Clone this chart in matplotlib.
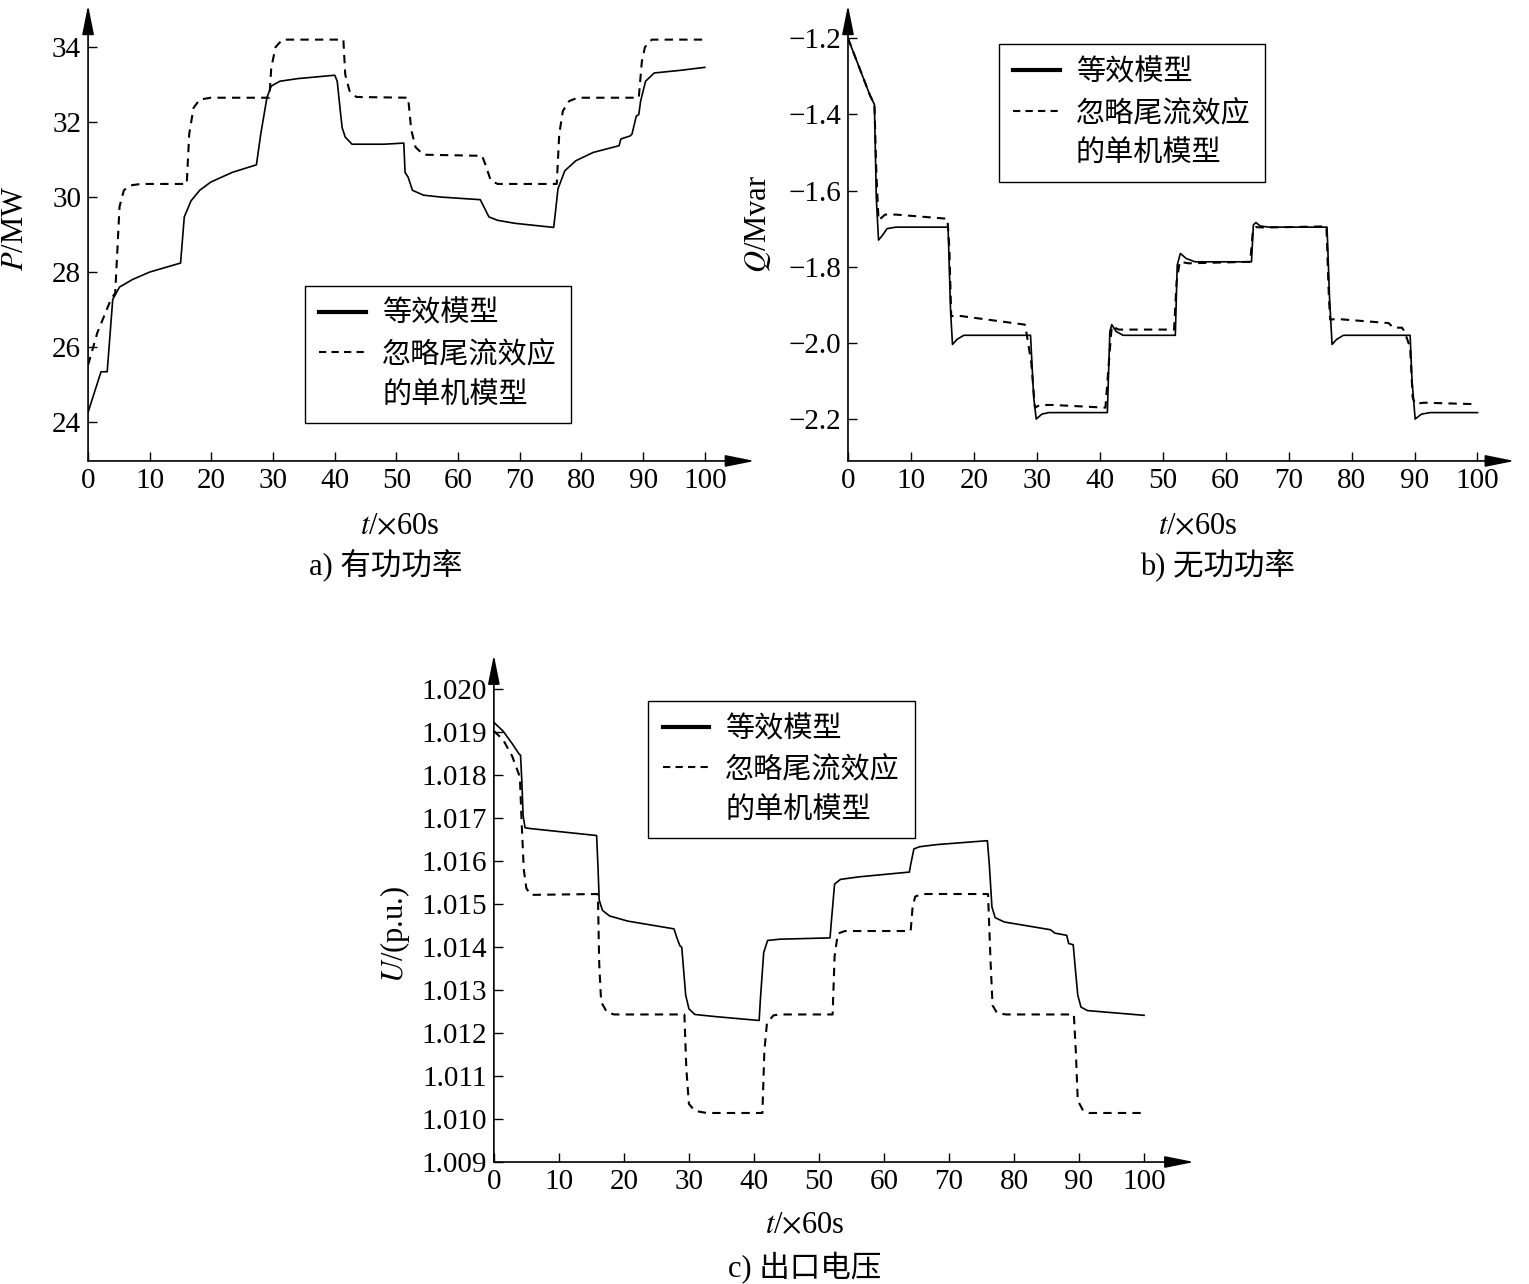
import matplotlib
matplotlib.use('Agg')
import matplotlib.pyplot as plt
from matplotlib.lines import Line2D
from matplotlib.ticker import FuncFormatter

plt.rcParams['font.family'] = ['Liberation Serif', 'Noto Sans CJK SC']
plt.rcParams['mathtext.fontset'] = 'stix'

# ---- a) active power P (MW) ----
t_p_eq = [0, 2.1, 3.1, 4.0, 5.1, 7.2, 10, 15, 15.6, 16.7, 18.1, 19.9, 23.4, 27.3,
          28.0, 29.0, 29.7, 31.1, 34.0, 40.0, 40.4, 40.9, 41.2, 41.7, 42.8, 48.0, 51.2,
          51.4, 51.9, 52.6, 54.4, 57.2, 63.6, 64.3, 65.0, 66.4, 69.2, 75.5, 75.7, 76.2,
          77.3, 79.1, 81.9, 86.1, 86.4, 87.9, 88.2, 88.9, 89.3, 89.6, 90.4, 91.8, 96, 100]
p_eq = [24.26, 25.34, 25.34, 27.27, 27.6, 27.8, 28.0, 28.24, 29.47, 29.9, 30.18, 30.4, 30.66, 30.86,
        31.68, 32.65, 32.96, 33.09, 33.16, 33.25, 33.09, 32.3, 31.85, 31.6, 31.41, 31.41, 31.44,
        30.66, 30.53, 30.18, 30.05, 30.0, 29.93, 29.7, 29.47, 29.38, 29.3, 29.19, 29.47, 30.22,
        30.7, 30.97, 31.19, 31.37, 31.55, 31.63, 31.68, 32.16, 32.2, 32.56, 33.09, 33.31, 33.38, 33.46]

t_p_single = [0, 1.5, 3.7, 4.4, 5.1, 5.8, 6.8, 8.6, 16.0, 16.4, 17.1, 18.1, 19.9, 29.4,
              29.7, 30.4, 31.5, 41.4, 41.7, 42.4, 43.5, 51.9, 52.4, 53.1, 54.4, 63.9,
              64.4, 65.3, 66.4, 76.0, 76.4, 77.0, 78.0, 79.4, 89.3, 89.8, 90.3, 91.4, 100]
p_single = [25.52, 26.38, 27.27, 27.44, 29.74, 30.18, 30.31, 30.35, 30.35, 31.68, 32.38, 32.6, 32.65, 32.65,
            33.44, 34.0, 34.2, 34.2, 33.27, 32.83, 32.67, 32.65, 31.8, 31.33, 31.13, 31.1,
            30.88, 30.44, 30.35, 30.35, 31.68, 32.3, 32.56, 32.65, 32.65, 33.62, 34.0, 34.2, 34.2]

# ---- b) reactive power Q (Mvar) ----
t_q_eq = [0, 0.7, 2.1, 3.5, 4.2, 4.5, 4.85, 5.5, 6.2, 7.6, 15.9, 16.3, 16.6, 17.3, 18.4, 29.0,
          29.5, 29.9, 30.8, 31.9, 41.2, 41.6, 41.9, 42.6, 43.7, 52.0, 52.3, 52.8, 53.7, 55.1,
          64.1, 64.4, 64.8, 65.5, 66.9, 76.1, 76.5, 76.9, 77.6, 78.7, 89.3, 89.6, 90.1, 91.1, 92.5, 100]
q_eq = [-1.2, -1.23, -1.29, -1.35, -1.374, -1.62, -1.73, -1.717, -1.70, -1.696, -1.696, -1.917, -2.004, -1.991, -1.98, -1.98,
        -2.143, -2.2, -2.187, -2.183, -2.183, -1.97, -1.952, -1.97, -1.98, -1.98, -1.796, -1.765, -1.778, -1.787,
        -1.787, -1.69, -1.684, -1.693, -1.696, -1.696, -1.883, -2.004, -1.991, -1.98, -1.98, -2.1, -2.2, -2.187, -2.183, -2.183]

t_q_single = [0, 0.7, 2.1, 3.5, 4.2, 4.5, 4.85, 5.9, 7.6, 15.8, 16.1, 16.4, 17.3, 28.1, 28.4, 29.1,
              29.7, 30.5, 32.6, 40.9, 41.4, 41.9, 43.0, 51.8, 52.2, 52.7, 54.1, 63.9, 64.3, 64.8,
              66.2, 76.0, 76.4, 76.6, 77.6, 85.9, 86.6, 88.0, 88.4, 89.3, 89.7, 90.1, 91.5, 100]
q_single = [-1.2, -1.23, -1.29, -1.35, -1.374, -1.55, -1.678, -1.663, -1.663, -1.674, -1.75, -1.93, -1.928, -1.952, -1.978, -2.05,
            -2.17, -2.163, -2.163, -2.17, -2.06, -1.956, -1.965, -1.965, -1.84, -1.787, -1.791, -1.787, -1.709, -1.696,
            -1.697, -1.694, -1.883, -1.939, -1.937, -1.948, -1.96, -1.96, -1.97, -2.012, -2.143, -2.16, -2.157, -2.161]

# ---- c) terminal voltage U (p.u.) ----
t_u_eq = [0, 1.4, 2.8, 3.9, 4.1, 4.3, 4.5, 4.8, 5.7, 15.8, 16.0, 16.2, 16.7, 17.8, 20.6, 27.7, 28.2,
          28.6, 28.9, 29.1, 29.5, 30.0, 30.9, 34.1, 40.8, 41.0, 41.5, 42.1, 44.0, 51.7, 52.0, 52.4,
          53.3, 56.2, 63.9, 64.1, 64.6, 65.5, 68.2, 75.9, 76.2, 76.6, 77.1, 78.5, 85.6, 86.3, 88.1,
          88.4, 89.1, 89.5, 89.8, 90.3, 91.3, 100]
u_eq = [1.01922, 1.01902, 1.01873, 1.01848, 1.01846, 1.01786, 1.01705, 1.01677, 1.01675, 1.01659, 1.01591, 1.01509, 1.01485, 1.01472, 1.0146, 1.01442, 1.01419,
        1.01403, 1.01399, 1.01362, 1.01288, 1.01256, 1.01243, 1.01238, 1.01229, 1.01281, 1.01387, 1.01415, 1.01418, 1.01421, 1.01476, 1.01546,
        1.01557, 1.01563, 1.01574, 1.01591, 1.01628, 1.01633, 1.01638, 1.01647, 1.01591, 1.01493, 1.01468, 1.01458, 1.0144, 1.01432, 1.01427,
        1.01408, 1.01405, 1.01337, 1.01288, 1.0126, 1.01252, 1.01241]

t_u_single = [0, 1.4, 2.8, 4.0, 4.3, 4.6, 5.0, 5.7, 16.0, 16.2, 16.5, 17.4, 18.5, 29.3, 29.6, 30.0,
              30.9, 32.7, 41.3, 41.6, 42.0, 43.0, 44.0, 52.1, 52.4, 52.9, 54.0, 64.1, 64.4, 64.8,
              65.8, 76.0, 76.4, 76.7, 77.4, 78.8, 89.2, 89.5, 89.8, 90.6, 91.6, 100]
u_single = [1.01902, 1.01882, 1.01844, 1.01795, 1.0168, 1.0158, 1.01536, 1.01521, 1.01523, 1.01362, 1.01272, 1.01248, 1.01243, 1.01243, 1.01117, 1.01035,
            1.01019, 1.01014, 1.01014, 1.01158, 1.01223, 1.01241, 1.01243, 1.01243, 1.01378, 1.01431, 1.01437, 1.01437, 1.01493, 1.01517,
            1.01523, 1.01523, 1.01362, 1.01264, 1.01246, 1.01243, 1.01243, 1.01158, 1.01043, 1.0102, 1.01014, 1.01014]

legend_labels = ['等效模型', '忽略尾流效应', '的单机模型']


def style_axis(ax, xmax, ylo, yhi, yticks, ndec, ylabel, ylabel_xy, xlabel_xy, legend_xy):
    for s in ax.spines.values():
        s.set_visible(False)
    ax.set_xlim(0, xmax)
    ax.set_ylim(ylo, yhi)
    ax.set_xticks(range(0, 101, 10))
    ax.set_yticks(yticks)
    ax.yaxis.set_major_formatter(FuncFormatter(
        lambda v, p: f'{v:.{ndec}f}'.replace('-', '\u2212')))
    ax.tick_params(direction='in', length=6.5, width=1, labelsize=21, pad=5)
    ax.tick_params(axis='y', pad=5)
    # axis lines with arrow heads
    arr = dict(arrowstyle='-|>,head_length=0.9,head_width=0.18', color='k', lw=1.2,
               shrinkA=0, shrinkB=0, mutation_scale=20)
    ax.annotate('', xy=(1, 0), xytext=(0, 0), xycoords='axes fraction', arrowprops=arr)
    ax.annotate('', xy=(0, 1), xytext=(0, 0), xycoords='axes fraction', arrowprops=arr)
    ax.set_xlabel(r'$t$/$\times$60s', fontsize=22)
    ax.xaxis.set_label_coords(*xlabel_xy)
    ax.set_ylabel(ylabel, fontsize=22)
    ax.yaxis.set_label_coords(*ylabel_xy)
    handles = [Line2D([], [], color='k', lw=3),
               Line2D([], [], color='k', lw=1.5, ls=(0, (3.5, 2.5))),
               Line2D([], [], color='none')]
    leg = ax.legend(handles, legend_labels, loc='upper left', bbox_to_anchor=legend_xy,
                    fontsize=21, frameon=True, fancybox=False, framealpha=1,
                    edgecolor='k', handlelength=1.6, handletextpad=0.55,
                    labelspacing=0.45, borderpad=0.5, borderaxespad=0)
    leg.get_frame().set_linewidth(1.0)


fig = plt.figure(figsize=(15.29, 12.84), dpi=100)

ax_a = fig.add_axes([0.0576, 0.641, 0.436, 0.355])
ax_a.plot(t_p_eq, p_eq, color='k', lw=1.2)
ax_a.plot(t_p_single, p_single, color='k', lw=1.5, ls=(0, (4, 3)))
style_axis(ax_a, 108.1, 22.96, 35.12, range(24, 35, 2), 0, '$P$/MW',
           (-0.087, 0.509), (0.468, -0.112), (0.325, 0.384))

ax_b = fig.add_axes([0.5546, 0.641, 0.436, 0.355])
ax_b.plot(t_q_eq, q_eq, color='k', lw=1.2)
ax_b.plot(t_q_single, q_single, color='k', lw=1.5, ls=(0, (4, 3)))
style_axis(ax_b, 105.9, -2.31, -1.113, [-2.2, -2.0, -1.8, -1.6, -1.4, -1.2], 1, '$Q$/Mvar',
           (-0.113, 0.52), (0.525, -0.112), (0.226, 0.914))

ax_c = fig.add_axes([0.323, 0.095, 0.458, 0.395])
ax_c.plot(t_u_eq, u_eq, color='k', lw=1.2)
ax_c.plot(t_u_single, u_single, color='k', lw=1.5, ls=(0, (4, 3)))
style_axis(ax_c, 107.7, 1.009, 1.02079, [1.009 + 0.001 * i for i in range(12)], 3,
           '$U$/(p.u.)', (-0.117, 0.448), (0.444, -0.098), (0.22, 0.909))

fig.text(0.252, 0.559, 'a) 有功功率', fontsize=22, ha='center', va='center')
fig.text(0.796, 0.559, 'b) 无功功率', fontsize=22, ha='center', va='center')
fig.text(0.526, 0.0125, 'c) 出口电压', fontsize=22, ha='center', va='center')

fig.savefig('out.png', dpi=100)
